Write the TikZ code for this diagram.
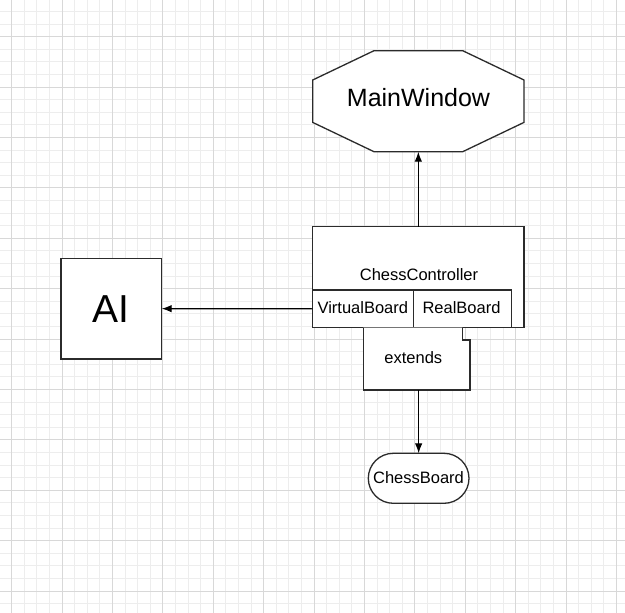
\documentclass[tikz,border=0pt]{standalone}
\usepackage{fontspec}
\setmainfont{Liberation Sans}
\usetikzlibrary{arrows.meta,calc}
\definecolor{gridminor}{HTML}{EDEDED}
\definecolor{gridmajor}{HTML}{D8D8D8}
\definecolor{edge}{HTML}{2B2B2B}
\begin{document}
\begin{tikzpicture}[x=1pt,y=-1pt,
  minorline/.style={gridminor,line width=0.9pt},
  majorline/.style={gridmajor,line width=1pt},
  box/.style={draw=edge,line width=1.3pt,fill=white,inner sep=0pt,outer sep=0pt},
  ghost/.style={draw=none,inner sep=0pt,outer sep=0pt},
  shapeline/.style={draw=edge,line width=1.3pt,fill=white},
  txt/.style={inner sep=0pt,font=\fontsize{16.5}{19}\selectfont},
  link/.style={black,line width=1.2pt,-{Latex[length=10pt,width=7.5pt]}}]
\useasboundingbox (0,0) rectangle (625,613);
\fill[white] (0,0) rectangle (625,613);
% grid
\foreach \i in {0,...,49}{
  \pgfmathsetmacro\gx{-0.9+12.6*\i}
  \draw[minorline] (\gx,0) -- (\gx,613);
  \pgfmathsetmacro\gy{-1.1+12.6*\i}
  \draw[minorline] (0,\gy) -- (625,\gy);
}
\foreach \i in {0,...,12}{
  \pgfmathsetmacro\gx{11.7+50.4*\i}
  \draw[majorline] (\gx,0) -- (\gx,613);
}
\foreach \i in {0,...,11}{
  \pgfmathsetmacro\gy{36.7+50.4*\i}
  \draw[majorline] (0,\gy) -- (625,\gy);
}
% MainWindow octagon
\node[ghost,minimum width=211.3pt,minimum height=101pt] (mw) at (418.35,101.2) {};
\filldraw[shapeline]
  ([xshift=61.3pt]mw.north west) -- ([xshift=-61.3pt]mw.north east)
  -- ([yshift=-29.3pt]mw.north east) -- ([yshift=29.3pt]mw.south east)
  -- ([xshift=-61.3pt]mw.south east) -- ([xshift=61.3pt]mw.south west)
  -- ([yshift=29.3pt]mw.south west) -- ([yshift=-29.3pt]mw.north west) -- cycle;
\node[inner sep=0pt,font=\fontsize{25}{30}\selectfont] (mwt) at (418.5,98) {MainWindow};
% ChessController
\node[box,minimum width=211.3pt,minimum height=101pt] (cc) at (418.35,277.2) {};
\node[txt] (cct) at (419,274.3) {ChessController};
\node[box,minimum width=100.6pt,minimum height=37.7pt] (vb) at (363,308.85) {};
\node[txt] (vbt) at (362.8,307.3) {VirtualBoard};
\node[box,minimum width=98.4pt,minimum height=37.7pt] (rb) at (462.5,308.85) {};
\node[txt] (rbt) at (461.5,307.3) {RealBoard};
% extends note
\node[ghost,minimum width=106.7pt,minimum height=62.3pt] (ext) at (416.65,358.85) {};
\draw[draw=edge,line width=1.3pt,fill=white]
  ([xshift=-7.7pt]ext.north east) -- ([xshift=-7.7pt,yshift=-12.3pt]ext.north east)
  -- ([yshift=-12.3pt]ext.north east) -- (ext.south east) -- (ext.south west) -- (ext.north west);
\node[txt] (extt) at (413.3,357.7) {extends};
% AI
\node[box,minimum width=100.7pt,minimum height=100.7pt,font=\fontsize{39}{44}\selectfont] (ai) at (111.35,308.65) {AI};
% ChessBoard
\node[box,rounded corners=25pt,minimum width=100.7pt,minimum height=50pt] (cb) at (418.65,478.3) {};
\node[txt] (cbt) at (418.5,477.3) {ChessBoard};
% connectors
\draw[link] (cc.north) -- (mw.south);
\draw[link] (vb.west) -- (ai.east);
\draw[link] (cb.north |- ext.south) -- (cb.north);
\end{tikzpicture}
\end{document}
